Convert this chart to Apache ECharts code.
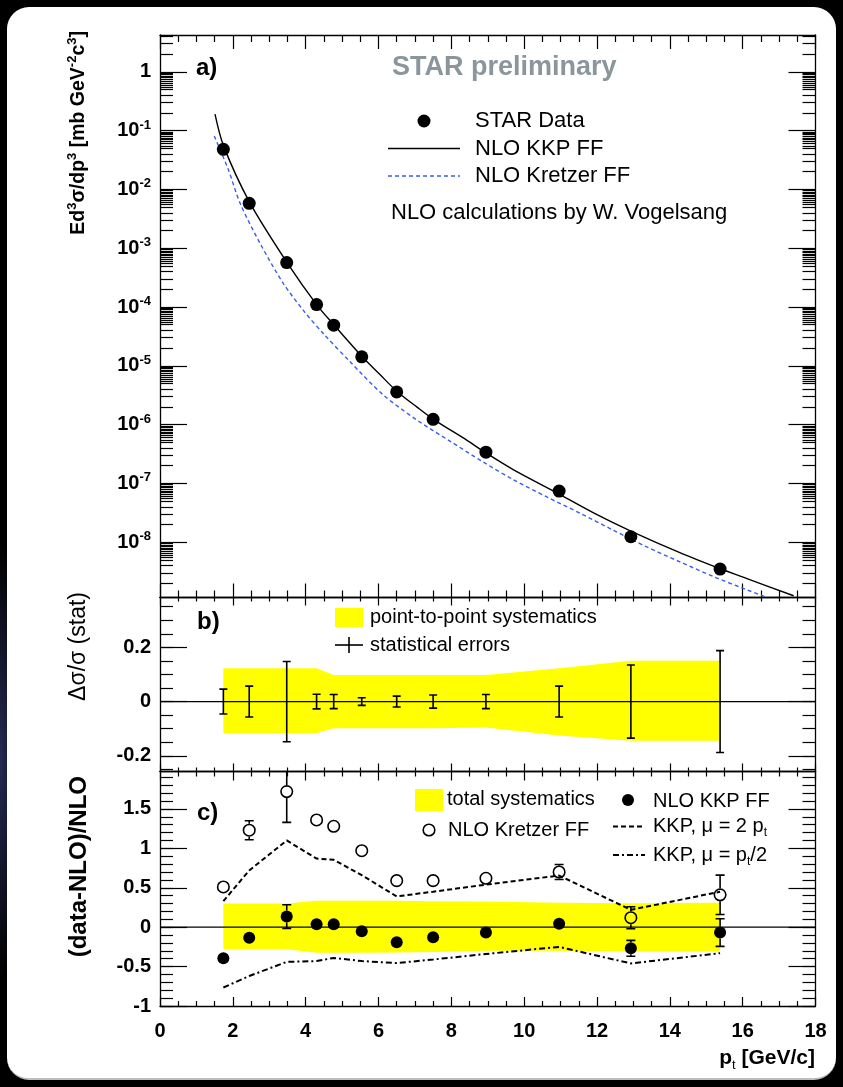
<!DOCTYPE html>
<html>
<head>
<meta charset="utf-8">
<script src="https://cdn.jsdelivr.net/npm/echarts@6/dist/echarts.min.js"></script>
<style>
  html, body { margin: 0; padding: 0; width: 843px; height: 1087px; overflow: hidden;
               background: radial-gradient(ellipse 26px 220px at 0px 760px, #262c55 0%, #000 100%); background-color: #000; }
  #card { position: absolute; left: 7px; top: 7px; width: 829px; height: 1073px; background: #fff;
          border-radius: 22px; box-sizing: border-box; border-bottom: 2px solid #bdbdbd; }
  #chart { position: absolute; left: 0; top: 0; width: 843px; height: 1087px; }
</style>
</head>
<body>
<div id="card"></div>
<div id="chart"></div>
<script>
const F = "'Liberation Sans', Arial, Helvetica, sans-serif";

// pt bin centres [GeV/c]
const pt = [1.74, 2.45, 3.48, 4.3, 4.77, 5.54, 6.5, 7.5, 8.95, 10.96, 12.93, 15.38];

// a) invariant cross section Ed3sigma/dp3 [mb GeV^-2 c^3]
const xsec = [0.048, 5.8e-3, 5.7e-4, 1.1e-4, 4.9e-5, 1.42e-5, 3.6e-6, 1.23e-6, 3.4e-7, 7.4e-8, 1.24e-8, 3.5e-9];

// NLO KKP FF curve
const kkpCurvePt = [1.51, 1.74, 2.45, 3.48, 4.3, 4.77, 5.54, 6.04, 6.5, 7.05, 7.51, 8.43, 8.95, 9.71, 10.96, 12.0, 12.93, 14.29, 15.38, 16.12, 17.4];
const kkpCurve   = [0.19, 0.056, 6.2e-3, 5.8e-4, 1.1e-4, 5.0e-5, 1.45e-5, 7.1e-6, 3.7e-6, 2.0e-6, 1.23e-6, 5.4e-7, 3.3e-7, 1.7e-7, 6.6e-8, 2.95e-8, 1.55e-8, 6.6e-9, 3.55e-9, 2.4e-9, 1.23e-9];

// NLO Kretzer FF curve
const kretzerCurvePt = [1.49, 1.88, 2.2, 2.75, 3.39, 3.98, 4.49, 5.22, 6.13, 7.05, 7.97, 8.88, 9.71, 10.62, 11.54, 12.45, 13.37, 14.29, 15.2, 16.12, 16.67];
const kretzerCurve   = [0.081, 0.0214, 5.8e-3, 1.2e-3, 2.5e-4, 8.1e-5, 3.5e-5, 1.17e-5, 3.2e-6, 1.2e-6, 5.2e-7, 2.3e-7, 1.15e-7, 5.9e-8, 3.1e-8, 1.6e-8, 8.3e-9, 4.6e-9, 2.6e-9, 1.55e-9, 1.15e-9];

// b) relative statistical errors and point-to-point systematics
const statErr  = [0.046, 0.057, 0.148, 0.027, 0.026, 0.014, 0.02, 0.024, 0.026, 0.057, 0.135, 0.188];
const p2pSysHi = [0.123, 0.123, 0.123, 0.123, 0.098, 0.098, 0.098, 0.098, 0.098, 0.123, 0.151, 0.151];
const p2pSysLo = [-0.116, -0.116, -0.116, -0.116, -0.098, -0.098, -0.098, -0.098, -0.096, -0.125, -0.145, -0.145];

// c) (data-NLO)/NLO
const ratioKKP        = [-0.395, -0.133, 0.135, 0.038, 0.038, -0.051, -0.19, -0.128, -0.069, 0.042, -0.268, -0.069];
const ratioKKPErr     = [0.03, 0.05, 0.15, 0.03, 0.03, 0.013, 0.016, 0.02, 0.024, 0.06, 0.10, 0.175];
const ratioKretzer    = [0.51, 1.23, 1.72, 1.36, 1.28, 0.97, 0.59, 0.59, 0.62, 0.70, 0.12, 0.41];
const ratioKretzerErr = [0.07, 0.12, 0.39, 0.064, 0.06, 0.028, 0.032, 0.038, 0.042, 0.095, 0.14, 0.25];
const ratioMu2        = [0.33, 0.72, 1.10, 0.87, 0.855, 0.66, 0.39, 0.45, 0.54, 0.655, 0.22, 0.45];
const ratioMuHalf     = [-0.765, -0.62, -0.44, -0.43, -0.39, -0.43, -0.455, -0.41, -0.34, -0.25, -0.46, -0.33];
const totSysHi        = [0.30, 0.30, 0.30, 0.335, 0.335, 0.335, 0.335, 0.33, 0.327, 0.31, 0.305, 0.31];
const totSysLo        = [-0.28, -0.28, -0.28, -0.324, -0.324, -0.324, -0.32, -0.315, -0.30, -0.30, -0.31, -0.31];

// axis tick labels
const logTickExps = [-8, -7, -6, -5, -4, -3, -2, -1, 0];
const bTickLabels = [-0.2, 0, 0.2];
const cTickLabels = [-1, -0.5, 0, 0.5, 1, 1.5];

// ---- layout of the three stacked panels ----
const grids = [
  { left: 160, width: 655.5, top: 35,    height: 562.5 },
  { left: 160, width: 655.5, top: 597.5, height: 174 },
  { left: 160, width: 655.5, top: 771.5, height: 234.5 }
];
const yRange = [[-8.94, 0.625], [-0.258, 0.384], [-1, 1.975]];
const xTickLen = [[14, 7], [8, 4], [9, 5]];

function logMinorTicks(lo, hi) {
  const ks = [2, 3, 4, 5, 5.5, 6, 6.5, 7, 7.5, 8, 8.5, 9, 9.5];
  const out = [];
  for (let n = Math.floor(lo); n <= Math.ceil(hi); n++) {
    ks.forEach(k => { const v = n + Math.log10(k); if (v > lo && v < hi) out.push(v); });
  }
  return out;
}
function linMinorTicks(lo, hi, step) {
  const out = [];
  for (let i = Math.ceil(lo / step); i * step <= hi; i++) out.push(Math.round(i * step * 1e6) / 1e6);
  return out;
}

const majors = [logTickExps, bTickLabels, cTickLabels];
const minors = [
  logMinorTicks(yRange[0][0], yRange[0][1]),
  linMinorTicks(yRange[1][0], yRange[1][1], 0.05),
  linMinorTicks(yRange[2][0], yRange[2][1], 0.1)
];

const axisLineStyle = { color: '#000', width: 1.3 };
const tickStyle = { color: '#000', width: 1.2 };
const labelBase = { color: '#000', fontFamily: F, fontWeight: 'bold', fontSize: 20 };

const formatters = [
  v => { const n = Math.round(v); return n === 0 ? '{t|1}' : '{t|10}{s|' + n + '}'; },
  v => (v === 0 ? '0' : v.toFixed(1)),
  v => String(v)
];

const xAxis = [];
grids.forEach((g, i) => {
  ['bottom', 'top'].forEach(pos => {
    xAxis.push({
      type: 'value', gridIndex: i, position: pos, min: 0, max: 18, interval: 2,
      axisLine: { show: true, onZero: false, lineStyle: axisLineStyle },
      axisTick: { show: true, inside: true, length: xTickLen[i][0], lineStyle: tickStyle },
      minorTick: { show: true, splitNumber: 4, length: xTickLen[i][1], lineStyle: tickStyle },
      splitLine: { show: false }, minorSplitLine: { show: false },
      axisLabel: Object.assign({ show: i === 2 && pos === 'bottom', margin: 15,
                                 showMinLabel: true, showMaxLabel: true }, labelBase)
    });
  });
});

const yAxis = [];
grids.forEach((g, i) => {
  const [mn, mx] = yRange[i];
  ['left', 'right'].forEach(pos => {
    yAxis.push({
      type: 'value', gridIndex: i, position: pos, min: mn, max: mx,
      axisLine: { show: true, onZero: false, lineStyle: axisLineStyle },
      axisTick: { show: true, inside: true, length: 27, customValues: majors[i], lineStyle: tickStyle },
      axisLabel: Object.assign({
        show: pos === 'left', customValues: majors[i], formatter: formatters[i], margin: 9,
        rich: {
          t: { fontFamily: F, fontWeight: 'bold', fontSize: 20, color: '#000', lineHeight: 24 },
          s: { fontFamily: F, fontWeight: 'bold', fontSize: 13, color: '#000', lineHeight: 13, verticalAlign: 'top' }
        }
      }, labelBase),
      splitLine: { show: false }
    });
    yAxis.push({
      type: 'value', gridIndex: i, position: pos, min: mn, max: mx,
      axisLine: { show: false, onZero: false },
      axisTick: { show: true, inside: true, length: 13, customValues: minors[i], lineStyle: tickStyle },
      axisLabel: { show: false },
      splitLine: { show: false }
    });
  });
});

// ---- render helpers ----
// vertical error bar with end caps; the part hidden behind a marker of radius `gap` is left out
function errorBars(capHalf, width, gap) {
  return function (params, api) {
    const x = api.value(0);
    const lo = api.coord([x, api.value(1)]);
    const hi = api.coord([x, api.value(2)]);
    const cy = gap > 0 ? api.coord([x, api.value(3)])[1] : null;
    const st = { stroke: '#000', lineWidth: width };
    const parts = [];
    const cap = p => parts.push({ type: 'line', shape: { x1: p[0] - capHalf, y1: p[1], x2: p[0] + capHalf, y2: p[1] }, style: st });
    if (gap > 0) {
      if (cy - hi[1] > gap) {
        parts.push({ type: 'line', shape: { x1: hi[0], y1: hi[1], x2: hi[0], y2: cy - gap }, style: st });
        cap(hi);
      }
      if (lo[1] - cy > gap) {
        parts.push({ type: 'line', shape: { x1: lo[0], y1: cy + gap, x2: lo[0], y2: lo[1] }, style: st });
        cap(lo);
      }
    } else {
      parts.push({ type: 'line', shape: { x1: lo[0], y1: lo[1], x2: hi[0], y2: hi[1] }, style: st });
      cap(lo); cap(hi);
    }
    return { type: 'group', children: parts };
  };
}
function band(xs, lo, hi) {
  return function (params, api) {
    if (params.dataIndex !== 0) return null;
    const pts = [];
    xs.forEach((x, i) => pts.push(api.coord([x, hi[i]])));
    for (let i = xs.length - 1; i >= 0; i--) pts.push(api.coord([xs[i], lo[i]]));
    return { type: 'polygon', shape: { points: pts }, style: { fill: '#ffff00' } };
  };
}
const logPts = (xs, ys) => xs.map((x, i) => [x, Math.log10(ys[i])]);
const pairs = (xs, ys) => xs.map((x, i) => [x, ys[i]]);
const withErr = (xs, ys, es) => xs.map((x, i) => [x, ys[i] - es[i], ys[i] + es[i], ys[i]]);

const series = [
  // a) cross section
  { type: 'line', xAxisIndex: 0, yAxisIndex: 0, data: logPts(kretzerCurvePt, kretzerCurve), smooth: 0.3,
    showSymbol: false, silent: true, z: 3, lineStyle: { color: '#3a5cf0', width: 1.4, type: [4, 3] } },
  { type: 'line', xAxisIndex: 0, yAxisIndex: 0, data: logPts(kkpCurvePt, kkpCurve), smooth: 0.3,
    showSymbol: false, silent: true, z: 3, lineStyle: { color: '#000', width: 1.4 } },
  { type: 'scatter', xAxisIndex: 0, yAxisIndex: 0, data: logPts(pt, xsec), symbol: 'circle', symbolSize: 13,
    itemStyle: { color: '#000', opacity: 1 }, z: 5 },

  // b) relative errors
  { type: 'custom', xAxisIndex: 2, yAxisIndex: 4, data: pt.map((x, i) => [x, p2pSysLo[i], p2pSysHi[i]]),
    encode: { x: 0, y: [1, 2] }, renderItem: band(pt, p2pSysLo, p2pSysHi), silent: true, z: 1 },
  { type: 'line', xAxisIndex: 2, yAxisIndex: 4, data: [[0, 0], [18, 0]], showSymbol: false, silent: true, z: 2,
    lineStyle: { color: '#000', width: 1.3 } },
  { type: 'custom', xAxisIndex: 2, yAxisIndex: 4, data: pt.map((x, i) => [x, -statErr[i], statErr[i], 0]),
    encode: { x: 0, y: [1, 2] }, renderItem: errorBars(4, 1.6, 0), clip: true, z: 4 },

  // c) (data-NLO)/NLO
  { type: 'custom', xAxisIndex: 4, yAxisIndex: 8, data: pt.map((x, i) => [x, totSysLo[i], totSysHi[i]]),
    encode: { x: 0, y: [1, 2] }, renderItem: band(pt, totSysLo, totSysHi), silent: true, z: 1 },
  { type: 'line', xAxisIndex: 4, yAxisIndex: 8, data: [[0, 0], [18, 0]], showSymbol: false, silent: true, z: 2,
    lineStyle: { color: '#000', width: 1.3 } },
  { type: 'line', xAxisIndex: 4, yAxisIndex: 8, data: pairs(pt, ratioMu2), showSymbol: false, silent: true, z: 3,
    lineStyle: { color: '#000', width: 2, type: [5, 3] } },
  { type: 'line', xAxisIndex: 4, yAxisIndex: 8, data: pairs(pt, ratioMuHalf), showSymbol: false, silent: true, z: 3,
    lineStyle: { color: '#000', width: 2, type: [6, 3, 2, 3] } },
  { type: 'custom', xAxisIndex: 4, yAxisIndex: 8, data: withErr(pt, ratioKretzer, ratioKretzerErr),
    encode: { x: 0, y: [1, 2] }, renderItem: errorBars(4.5, 1.6, 6.5), clip: true, z: 4 },
  { type: 'scatter', xAxisIndex: 4, yAxisIndex: 8, data: pairs(pt, ratioKretzer), symbol: 'circle', symbolSize: 11.5,
    itemStyle: { color: 'rgba(255,255,255,0)', borderColor: '#000', borderWidth: 1.6, opacity: 1 }, z: 5 },
  { type: 'custom', xAxisIndex: 4, yAxisIndex: 8, data: withErr(pt, ratioKKP, ratioKKPErr),
    encode: { x: 0, y: [1, 2] }, renderItem: errorBars(4.5, 1.6, 6), clip: true, z: 4 },
  { type: 'scatter', xAxisIndex: 4, yAxisIndex: 8, data: pairs(pt, ratioKKP), symbol: 'circle', symbolSize: 12,
    itemStyle: { color: '#000', opacity: 1 }, z: 5 }
];

// ---- texts, legends and axis titles ----
const txt = (x, y, text, extra) => ({
  type: 'text', x, y, silent: true,
  style: Object.assign({ text, fontFamily: F, fontSize: 21, fill: '#000', align: 'left', verticalAlign: 'middle' }, extra || {})
});
const seg = (x1, y1, x2, y2, extra) => ({
  type: 'line', silent: true, shape: { x1, y1, x2, y2 },
  style: Object.assign({ stroke: '#000', lineWidth: 1.4 }, extra || {})
});
const richMain = (size, weight) => ({ fontFamily: F, fontSize: size, fontWeight: weight, fill: '#000', lineHeight: size + 6 });
const richSup = size => ({ fontFamily: F, fontSize: size, fontWeight: 'bold', fill: '#000', lineHeight: size, verticalAlign: 'top' });
const richSub = size => ({ fontFamily: F, fontSize: size, fontWeight: 'normal', fill: '#000', lineHeight: size, verticalAlign: 'bottom' });

const graphic = [
  // panel a)
  txt(196, 68, 'a)', { fontWeight: 'bold', fontSize: 24 }),
  txt(392, 68, 'STAR preliminary', { fontWeight: 'bold', fontSize: 27, fill: '#8b959c' }),
  { type: 'circle', silent: true, shape: { cx: 424, cy: 121, r: 6.5 }, style: { fill: '#000' } },
  txt(475, 121, 'STAR Data', { fontSize: 22 }),
  seg(388, 148.5, 460, 148.5),
  txt(475, 148.5, 'NLO KKP FF', { fontSize: 22 }),
  seg(388, 176, 460, 176, { stroke: '#3a5cf0', lineDash: [4, 3] }),
  txt(475, 176, 'NLO Kretzer FF', { fontSize: 22 }),
  txt(391, 213, 'NLO calculations by W. Vogelsang', { fontSize: 22 }),

  // panel b)
  txt(197, 622, 'b)', { fontWeight: 'bold', fontSize: 24 }),
  { type: 'rect', silent: true, shape: { x: 335, y: 608, width: 28, height: 19 }, style: { fill: '#ffff00' } },
  txt(370, 617.5, 'point-to-point systematics', { fontSize: 20 }),
  seg(335, 645, 363, 645, { lineWidth: 1.6 }),
  seg(349, 637, 349, 653, { lineWidth: 1.6 }),
  txt(370, 645, 'statistical errors', { fontSize: 20 }),

  // panel c)
  txt(197, 813, 'c)', { fontWeight: 'bold', fontSize: 24 }),
  { type: 'rect', silent: true, shape: { x: 415, y: 789, width: 28, height: 22 }, style: { fill: '#ffff00' } },
  txt(447, 799.5, 'total systematics', { fontSize: 20 }),
  { type: 'circle', silent: true, shape: { cx: 429, cy: 830, r: 5.8 }, style: { fill: 'none', stroke: '#000', lineWidth: 1.6 } },
  txt(448, 830, 'NLO Kretzer FF', { fontSize: 20 }),
  { type: 'circle', silent: true, shape: { cx: 628, cy: 800, r: 6 }, style: { fill: '#000' } },
  txt(653, 801, 'NLO KKP FF', { fontSize: 20 }),
  seg(613, 826.5, 645, 826.5, { lineWidth: 2, lineDash: [5, 3] }),
  txt(653, 826, '{n|KKP, μ = 2 p}{b|t}', { rich: { n: richMain(20, 'normal'), b: richSub(12) } }),
  seg(613, 855, 645, 855, { lineWidth: 2, lineDash: [6, 3, 2, 3] }),
  txt(653, 855, '{n|KKP, μ = p}{b|t}{n|/2}', { rich: { n: richMain(20, 'normal'), b: richSub(12) } }),

  // axis titles
  Object.assign(txt(79, 31, '{a|Ed}{s|3}{a|σ/dp}{s|3}{a| [mb GeV}{s|-2}{a|c}{s|3}{a|]}',
    { align: 'right', rich: { a: richMain(19.5, 'bold'), s: richSup(13) } }), { rotation: Math.PI / 2 }),
  Object.assign(txt(79, 592, 'Δσ/σ (stat)', { align: 'right', fontSize: 23 }), { rotation: Math.PI / 2 }),
  Object.assign(txt(79, 776, '(data-NLO)/NLO', { align: 'right', fontSize: 24, fontWeight: 'bold' }), { rotation: Math.PI / 2 }),
  txt(815, 1058, '{a|p}{b|t}{a| [GeV/c]}', { align: 'right', rich: { a: richMain(21, 'bold'), b: richSub(13) } })
];

const chart = echarts.init(document.getElementById('chart'), null, { renderer: 'canvas' });
chart.setOption({
  animation: false,
  backgroundColor: 'transparent',
  grid: grids.map(g => Object.assign({ outerBoundsMode: 'none', containLabel: false }, g)),
  xAxis, yAxis, series, graphic
});
</script>
</body>
</html>
